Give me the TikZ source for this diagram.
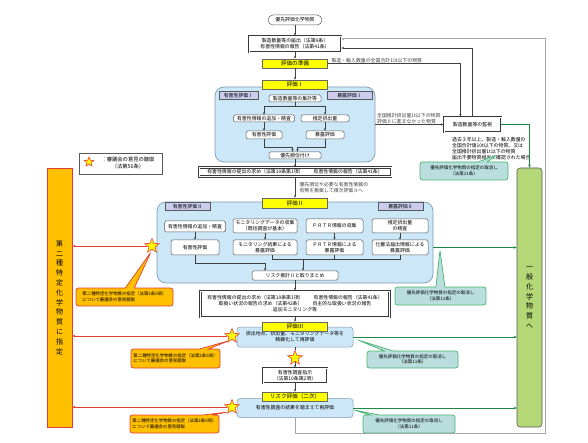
\documentclass[tikz,border=0pt]{standalone}
\usepackage{fontspec}
\setmainfont{Noto Sans CJK JP}
\usepackage{tikz}
\usetikzlibrary{positioning, arrows.meta, shapes.geometric, shapes.callouts, calc}
\definecolor{regblue}{RGB}{204,232,248}
\definecolor{regborder}{RGB}{125,155,175}
\definecolor{tabcolor}{RGB}{204,204,238}
\definecolor{titleyellow}{RGB}{255,255,0}
\definecolor{callgreen}{RGB}{186,222,222}
\definecolor{bordgreen}{RGB}{70,180,110}
\definecolor{linegreen}{RGB}{30,135,70}
\definecolor{desigorange}{RGB}{255,192,0}
\definecolor{desigred}{RGB}{230,60,50}
\definecolor{generalgreen}{RGB}{180,215,120}
\definecolor{flowgray}{RGB}{64,64,64}
\definecolor{loopgray}{RGB}{165,165,165}

\begin{document}
\begin{tikzpicture}[x=1pt, y=-1pt,
    font=\fontsize{4.9}{6}\selectfont,
    evaltitle/.style={rectangle, fill=titleyellow, draw=gray!80!black, line width=0.5pt, minimum width=65, minimum height=9, inner sep=0, font=\fontsize{5.6}{6.6}\selectfont},
    region/.style={rectangle, rounded corners=9pt, fill=regblue, draw=regborder, line width=0.7pt, inner sep=0},
    tab/.style={rectangle, fill=tabcolor, draw=gray!70!black, line width=0.4pt, minimum height=8, inner sep=0},
    proc/.style={rectangle, rounded corners=1.5pt, fill=white, draw=gray!70!black, line width=0.5pt, inner sep=0, align=center},
    dbox/.style={rectangle, fill=white, draw=gray!45!black, double=white, double distance=0.6pt, line width=0.8pt, inner sep=0, align=center},
    arr/.style={-{Stealth[length=2.6pt, width=2.2pt]}, flowgray, line width=0.5pt},
    garr/.style={-{Stealth[length=3pt, width=2.6pt]}, linegreen, line width=0.8pt},
    rarr/.style={-{Stealth[length=3pt, width=2.6pt]}, desigred, line width=0.8pt},
    gcall/.style={rectangle callout, rounded corners=2.5pt, fill=callgreen, draw=bordgreen, line width=0.7pt, callout pointer width=9pt, inner sep=0, align=center, font=\fontsize{4.5}{5.6}\selectfont},
    ocall/.style={rectangle callout, rounded corners=2.5pt, fill=desigorange, draw=desigred, line width=0.7pt, callout pointer width=9pt, inner sep=0, align=left, font=\fontsize{4.4}{5.6}\selectfont},
    council/.style={star, star points=5, star point ratio=2.3, fill=titleyellow, draw=desigred, line width=0.6pt, minimum size=15, inner sep=0},
    sidebar/.style={rectangle, minimum width=25, minimum height=259, inner sep=0, align=center, font=\fontsize{7}{9.8}\selectfont}
]
    \useasboundingbox (0,0) rectangle (588,443);

    % === outer loop back to the notification ===
    \coordinate (loopcorner) at (545,433);

    % === top: notification and preparation ===
    \node[proc, rounded corners=5pt, minimum width=54, minimum height=10] (prio) at (295,20) {優先評価化学物質};
    \node[dbox, minimum width=92, minimum height=16] (notify) at (295,44) {製造数量等の届出（法第9条）\\有害性情報の報告（法第41条）};
    \node[evaltitle] (prep) at (295,63.5) {評価の準備};

    % === evaluation I ===
    \node[region, minimum width=160, minimum height=75] (reg1) at (295,124.5) {};
    \node[evaltitle] (eval1) at (295,84.5) {評価Ⅰ};
    \node[tab, minimum width=39] (haz1) at (238.5,95.5) {有害性評価Ⅰ};
    \node[tab, minimum width=45] (exp1) at (349.5,95.5) {暴露評価Ⅰ};
    \node[proc, minimum width=52, minimum height=7] (agg) at (295,98.5) {製造数量等の集計等};
    \node[proc, minimum width=61, minimum height=7] (add1) at (264,118.5) {有害性情報の追加・精査};
    \node[proc, minimum width=48, minimum height=7] (emis1) at (325,118.5) {推定排出量};
    \node[proc, minimum width=36, minimum height=8] (hazev1) at (264,135) {有害性評価};
    \node[proc, minimum width=38, minimum height=8] (expev1) at (325,135) {暴露評価};
    \node[proc, minimum width=52, minimum height=7] (rank) at (295,155.5) {優先順位付け};

    % === monitoring of quantities ===
    \node[dbox, minimum width=57, minimum height=15] (watch) at (472.5,124.5) {製造数量等の監視};
    \node[anchor=north west, align=left] (watchnote) at ($(watch.south west)+(5,1)$) {過去３年以上、製造・輸入数量の\\全国合計値10t以下の物質、又は\\全国推計排出量1t以下の物質\\届出不要物質相当と確認された場合};
    \node[gcall, minimum width=88, minimum height=18, callout absolute pointer={(497,155)}] (gc1) at (464,171) {優先評価化学物質の指定の取消し\\（法第11条）};

    % === side bars ===
    \node[sidebar, fill=desigorange, draw=desigred, line width=0.8pt] (bar2) at (59.5,297.5) {第\\二\\種\\特\\定\\化\\学\\物\\質\\に\\指\\定};
    \node[sidebar, fill=generalgreen, draw=gray!70!black, line width=0.6pt, rounded corners=3pt] (gen) at (529.5,297.5) {一\\般\\化\\学\\物\\質\\へ};

    % === legend ===
    \node[draw=gray!70!black, fill=white, line width=0.5pt, minimum width=83, minimum height=21, inner sep=0] (legend) at (120.5,163.5) {};
    \node[council, minimum size=10] (legstar) at (89,162) {};
    \node[align=center, font=\fontsize{5.3}{7}\selectfont] (legtext) at (128,163.5) {：審議会の意見の聴取\\（法第56条）};

    % === request for hazard information ===
    \node[dbox, minimum width=192, minimum height=9] (box1) at (295,172) {有害性情報の提出の求め（法第10条第1項）\hspace{10pt}有害性情報の報告（法第41条）};

    % === evaluation II ===
    \node[region, minimum width=276, minimum height=81] (reg2) at (295,242.5) {};
    \node[evaltitle, minimum height=10] (eval2) at (295,203) {評価Ⅱ};
    \node[tab, minimum width=45] (haz2) at (187.5,206.5) {有害性評価Ⅱ};
    \node[tab, minimum width=45] (exp2) at (400.5,206.5) {暴露評価Ⅱ};
    \node[proc, minimum width=61, minimum height=11] (add2) at (195,226.5) {有害性情報の追加・精査};
    \node[proc, minimum width=64, minimum height=14] (mon) at (265,226) {モニタリングデータの収集\\（既往調査が基本）};
    \node[proc, minimum width=57, minimum height=14] (prtr) at (334.5,226) {ＰＲＴＲ情報の収集};
    \node[proc, minimum width=56, minimum height=14] (est) at (400,226) {推定排出量\\の精査};
    \node[proc, minimum width=48, minimum height=15] (hazev2) at (195,247.5) {有害性評価};
    \node[proc, minimum width=64, minimum height=15] (monev) at (265,247.5) {モニタリング結果による\\暴露評価};
    \node[proc, minimum width=57, minimum height=15] (prtrev) at (334.5,247.5) {ＰＲＴＲ情報による\\暴露評価};
    \node[proc, minimum width=56, minimum height=15] (estev) at (400,247.5) {化審法届出情報による\\暴露評価};
    \node[proc, minimum width=86, minimum height=9] (risk2) at (295,275.5) {リスク推計Ⅱと取りまとめ};
    \node[council] (s2) at (152,246) {};
    \node[gcall, minimum width=91, minimum height=18, callout absolute pointer={(440,250)}] (gc2) at (440.5,296) {優先評価化学物質の指定の取消し\\（法第11条）};
    \node[ocall, minimum width=97, minimum height=18, callout absolute pointer={(151,252)}] (oc1) at (124.5,297) {第二種特定化学物質の指定（法第2条5項）\\について審議会の意見聴取};

    % === further requests ===
    \node[dbox, minimum width=189, minimum height=26] (box3) at (295,304) {有害性情報の提出の求め（法第10条第1項）\hspace{10pt}有害性情報の報告（法第41条）\\取扱い状況の報告の求め（法第42条）\hspace{10pt}自主的な取扱い状況の報告\\追加モニタリング等};

    % === evaluation III ===
    \node[proc, fill=regblue, draw=regborder, rounded corners=3pt, minimum width=116, minimum height=20] (b3) at (295,337) {排出地点、排出量、モニタリングデータ等を\\精緻化して再評価};
    \node[evaltitle] (eval3) at (295,326.5) {評価Ⅲ};
    \node[council] (s3) at (232,336) {};
    \node[council] (s4) at (295,358) {};
    \node[gcall, minimum width=91, minimum height=17, callout absolute pointer={(358,340)}] (gc3) at (412.5,359.5) {優先評価化学物質の指定の取消し\\（法第11条）};
    \node[ocall, minimum width=89, minimum height=19, callout absolute pointer={(228,341)}] (oc2) at (175.5,358.5) {第二種特定化学物質の指定（法第2条5項）\\について審議会の意見聴取};

    % === hazard investigation and secondary risk assessment ===
    \node[dbox, minimum width=64, minimum height=15] (order) at (295,375.5) {有害性調査指示\\（法第10条第2項）};
    \node[proc, fill=regblue, draw=regborder, rounded corners=3pt, minimum width=116, minimum height=19] (rb2) at (295,408) {有害性調査の結果を踏まえて再評価};
    \node[evaltitle] (evr2) at (295,396.5) {リスク評価（二次）};
    \node[council] (s5) at (232,407) {};
    \node[gcall, minimum width=92, minimum height=18, callout absolute pointer={(354,410)}] (gc4) at (409,424) {優先評価化学物質の指定の取消し\\（法第11条）};
    \node[ocall, minimum width=89, minimum height=18, callout absolute pointer={(228,412)}] (oc3) at (174.5,424) {第二種特定化学物質の指定（法第2条5項）\\について審議会の意見聴取};

    % === main flow ===
    \draw[arr, loopgray, line width=1pt] (rb2.south) |- (loopcorner) |- ([yshift=5pt]notify.east);
    \draw[arr] (prio) -- (notify);
    \draw[arr] (notify) -- (prep);
    \draw[arr] (prep) -- (eval1);
    \draw[arr] (prep.east) -| node[pos=0, anchor=south west, inner sep=0.5pt, xshift=3pt] {製造・輸入数量の全国合計10t以下の物質} ([xshift=-12pt]watch.north);
    \draw[arr] (reg1) -- node[pos=0, anchor=south west, align=left, inner sep=0.5pt, xshift=1pt] {全国推計排出量1t以下の物質\\評価Ⅱに進まなかった物質} (watch);
    \draw[arr] (watch.north) |- ([yshift=-4pt]notify.east);

    % inside evaluation I
    \draw[arr] (agg.south) -- ++(0,4.5) -| (add1.north);
    \draw[arr] (agg.south) -- ++(0,4.5) -| (emis1.north);
    \draw[arr] (add1) -- (hazev1);
    \draw[arr] (emis1) -- (expev1);
    \draw[arr] (hazev1.south) -- ++(0,8) -| ([xshift=-2.5pt]rank.north);
    \draw[arr] (expev1.south) -- ++(0,8) -| ([xshift=2.5pt]rank.north);

    \draw[arr] (rank) -- (box1);
    \draw[arr] (box1) -- node[anchor=west, align=left, xshift=1pt] {優先順位や必要な有害性情報の\\有無を勘案して順次評価Ⅱへ} (eval2);

    % inside evaluation II
    \draw[arr] (add2) -- (hazev2);
    \draw[arr] (mon) -- (monev);
    \draw[arr] (prtr) -- (prtrev);
    \draw[arr] (est) -- (estev);
    \coordinate (j2) at ($([xshift=8pt]risk2.north)+(0,-11)$);
    \draw[arr] (hazev2.south) -- ++(0,8) -| ([xshift=-30pt]risk2.north);
    \draw[flowgray, line width=0.5pt] ([xshift=7pt]monev.south) |- (j2);
    \draw[flowgray, line width=0.5pt] (estev.south) |- (j2);
    \draw[flowgray, line width=0.5pt] (prtrev.south) -- (prtrev.south |- j2);
    \draw[arr] (j2) -- (j2 |- risk2.north);

    \draw[arr] (risk2) -- (box3);
    \draw[arr] (box3) -- (eval3);
    \draw[flowgray, line width=0.5pt] (b3) -- (s4);
    \draw[arr] (s4) -- (order);
    \draw[arr] (order) -- (evr2);

    % === to general chemical substances ===
    \draw[garr] (watch.east) -| (gen.north);
    \draw[garr] (reg2.east |- estev) -- (gen.west |- estev);
    \draw[garr] (b3) -- (b3 -| gen.west);
    \draw[garr] (rb2) -- (rb2 -| gen.west);

    % === to class II specified chemical substances ===
    \draw[rarr] (s2) -- (s2 -| bar2.east);
    \draw[rarr] (s3) -- (s3 -| bar2.east);
    \draw[rarr] (s5) -- (s5 -| bar2.east);
\end{tikzpicture}
\end{document}
